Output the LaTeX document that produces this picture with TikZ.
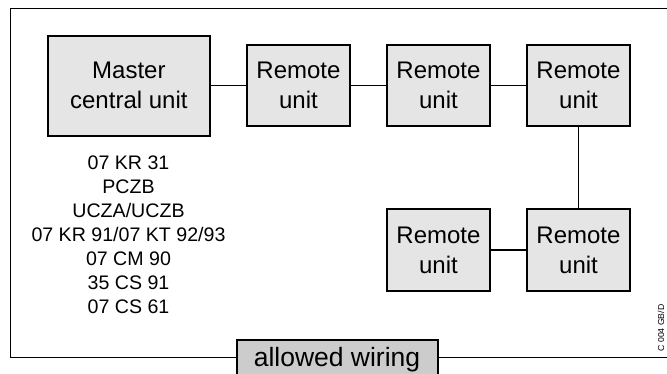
\documentclass[tikz,border=0pt]{standalone}
\usepackage{fontspec}
\setmainfont{Liberation Sans}
\begin{document}
\begin{tikzpicture}[x=1pt,y=-1pt,
  unitbox/.style={draw=black, fill=black!10, line width=2pt, inner sep=0pt, outer sep=0pt,
    align=center, font=\fontsize{24}{30}\selectfont},
  remotebox/.style={unitbox, minimum width=103.6pt, minimum height=81.7pt},
  wire/.style={line width=1.9pt},
  frame/.style={line width=1pt}]
\useasboundingbox (0,0) rectangle (667,374);
% frame
\draw[frame] (667,8.5) -- (10,8.5) -- (10,357.3) -- (667,357.3);
% units
\node[unitbox, minimum width=162.3pt, minimum height=100pt] (m) at (128.85,85.8) {Master\\central unit};
\node[remotebox] (r1) at (298.5,85.5) {Remote\\unit};
\node[remotebox] (r2) at (438.5,85.5) {Remote\\unit};
\node[remotebox] (r3) at (578.5,85.5) {Remote\\unit};
\node[remotebox] (r5) at (578.5,250.2) {Remote\\unit};
\node[remotebox] (r4) at (438.5,250.2) {Remote\\unit};
% wires
\draw[wire] (r1.west -| m.east) -- (r1.west);
\draw[wire] (r1) -- (r2);
\draw[wire] (r2) -- (r3);
\draw[wire] (r3) -- (r5);
\draw[wire] (r4) -- (r5);
% list
\node[align=center, inner sep=0pt, font=\fontsize{19.6}{24}\selectfont] (lst) at (128.5,235)
  {07 KR 31\\PCZB\\UCZA/UCZB\\07 KR 91/07 KT 92/93\\07 CM 90\\35 CS 91\\07 CS 61};
% allowed wiring
\node[draw=black, fill=black!20, line width=2pt, inner sep=0pt, outer sep=0pt,
  minimum width=201pt, minimum height=41pt, font=\fontsize{26.5}{30}\selectfont] (aw) at (337,360) {allowed wiring};
% code
\node[rotate=90, inner sep=0pt, font=\fontsize{8.7}{10}\selectfont] (code) at (661,328) {C 004 GB/D};
\end{tikzpicture}
\end{document}
